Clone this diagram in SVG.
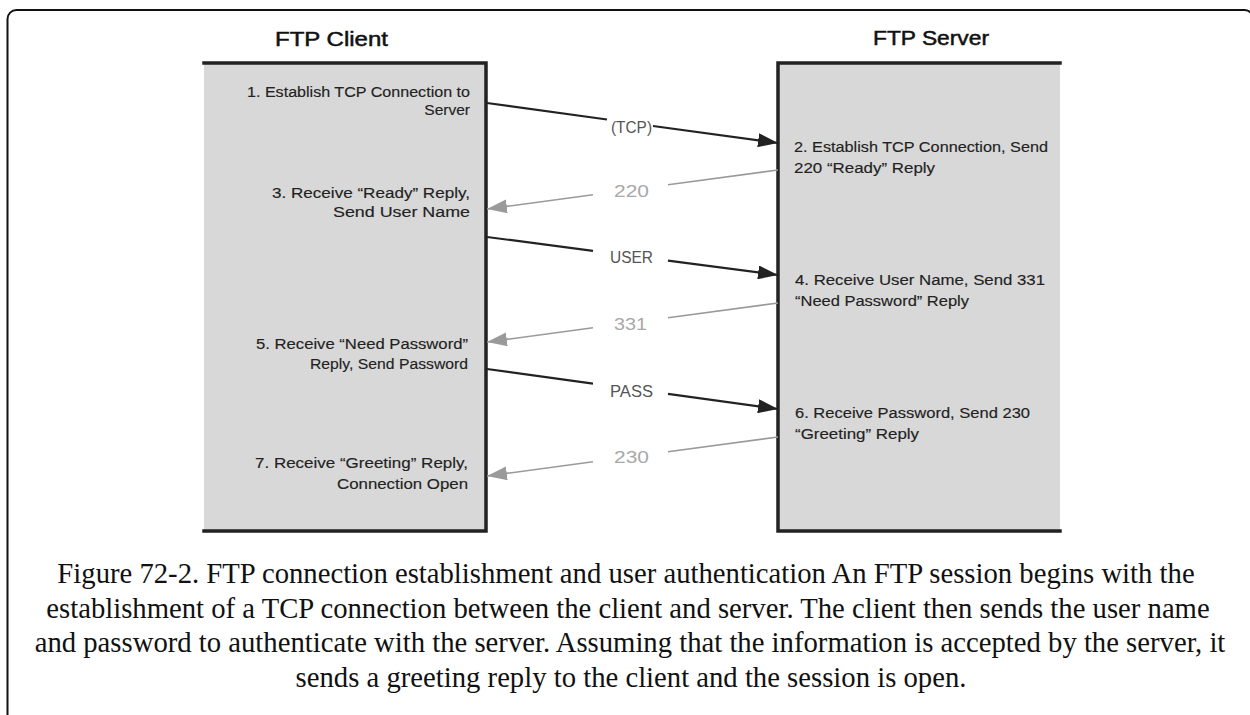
<svg xmlns="http://www.w3.org/2000/svg" width="1250" height="715" viewBox="0 0 1250 715">
<defs>
<style>
.frame{fill:none;stroke:#111;stroke-width:2}
.box{fill:#d8d8d8}
.edge{stroke:#222;stroke-width:3.5;fill:none;stroke-linecap:square}
.title{font-family:"Liberation Sans",Arial,sans-serif;font-size:20px;fill:#111;stroke:#111;stroke-width:0.5}
.t{font-family:"Liberation Sans",Arial,sans-serif;font-size:15.5px;fill:#222;stroke:#222;stroke-width:0.15}
.r{text-anchor:end}
.blk{stroke:#222;stroke-width:2.2;fill:none}
.gry{stroke:#9a9a9a;stroke-width:1.6;fill:none}
.lblk{font-family:"Liberation Sans",Arial,sans-serif;font-size:16px;fill:#555}
.lgry{font-family:"Liberation Sans",Arial,sans-serif;font-size:16px;fill:#a8a8a8}
.cap{font-family:"Liberation Serif","Times New Roman",serif;font-size:28.7px;fill:#111;text-anchor:middle}
</style>
<marker id="ab" markerUnits="userSpaceOnUse" markerWidth="20" markerHeight="14" refX="20" refY="7" orient="auto">
<path d="M0,0 L20,7 L0,14 Z" fill="#222"/>
</marker>
<marker id="ag" markerUnits="userSpaceOnUse" markerWidth="20" markerHeight="14" refX="20" refY="7" orient="auto">
<path d="M0,0 L20,7 L0,14 Z" fill="#9a9a9a"/>
</marker>
</defs>
<rect width="1250" height="715" fill="#fff"/>
<rect class="frame" x="7.5" y="10" width="1246" height="725" rx="9"/>

<g id="client">
<text class="title" x="275" y="46" textLength="113" lengthAdjust="spacingAndGlyphs">FTP Client</text>
<rect class="box" x="204" y="63" width="282" height="468"/>
<path class="edge" d="M204,63 H486 V531 H204"/>
<text class="t r" x="470" y="97" textLength="223" lengthAdjust="spacingAndGlyphs">1. Establish TCP Connection to</text>
<text class="t r" x="470" y="115">Server</text>
<text class="t r" x="470" y="198" textLength="198" lengthAdjust="spacingAndGlyphs">3. Receive “Ready” Reply,</text>
<text class="t r" x="470" y="217" textLength="137" lengthAdjust="spacingAndGlyphs">Send User Name</text>
<text class="t r" x="468" y="349" textLength="212" lengthAdjust="spacingAndGlyphs">5. Receive “Need Password”</text>
<text class="t r" x="468" y="369" textLength="158" lengthAdjust="spacingAndGlyphs">Reply, Send Password</text>
<text class="t r" x="468" y="468" textLength="213" lengthAdjust="spacingAndGlyphs">7. Receive “Greeting” Reply,</text>
<text class="t r" x="468" y="489" textLength="131" lengthAdjust="spacingAndGlyphs">Connection Open</text>
</g>

<g id="server">
<text class="title" x="873" y="45" textLength="116" lengthAdjust="spacingAndGlyphs">FTP Server</text>
<rect class="box" x="778" y="63" width="282" height="468"/>
<path class="edge" d="M1060,63 H778 V531 H1060"/>
<text class="t" x="794" y="152" textLength="254" lengthAdjust="spacingAndGlyphs">2. Establish TCP Connection, Send</text>
<text class="t" x="794" y="173" textLength="141" lengthAdjust="spacingAndGlyphs">220 “Ready” Reply</text>
<text class="t" x="795" y="285" textLength="250" lengthAdjust="spacingAndGlyphs">4. Receive User Name, Send 331</text>
<text class="t" x="795" y="306" textLength="174" lengthAdjust="spacingAndGlyphs">“Need Password” Reply</text>
<text class="t" x="795" y="418" textLength="235" lengthAdjust="spacingAndGlyphs">6. Receive Password, Send 230</text>
<text class="t" x="795" y="439" textLength="124" lengthAdjust="spacingAndGlyphs">“Greeting” Reply</text>
</g>

<g id="connectors">
<path class="blk" d="M487,103 L607,119.5"/>
<path class="blk" d="M653,126 L778,143" marker-end="url(#ab)"/>
<text class="lblk" x="611" y="133" textLength="41" lengthAdjust="spacingAndGlyphs">(TCP)</text>

<path class="gry" d="M778,170 L668,184.7"/>
<path class="gry" d="M593,194.8 L487,209" marker-end="url(#ag)"/>
<text class="lgry" x="614" y="197" textLength="35" lengthAdjust="spacingAndGlyphs">220</text>

<path class="blk" d="M487,237 L593,250.8"/>
<path class="blk" d="M668,260.6 L778,275" marker-end="url(#ab)"/>
<text class="lblk" x="610" y="263" textLength="43" lengthAdjust="spacingAndGlyphs">USER</text>

<path class="gry" d="M778,303 L668,317.7"/>
<path class="gry" d="M593,327.8 L487,342" marker-end="url(#ag)"/>
<text class="lgry" x="614" y="330" textLength="33" lengthAdjust="spacingAndGlyphs">331</text>

<path class="blk" d="M487,369 L593,383.6"/>
<path class="blk" d="M668,393.9 L778,409" marker-end="url(#ab)"/>
<text class="lblk" x="610" y="397" textLength="43" lengthAdjust="spacingAndGlyphs">PASS</text>

<path class="gry" d="M778,437 L668,451.7"/>
<path class="gry" d="M593,461.8 L487,476" marker-end="url(#ag)"/>
<text class="lgry" x="614" y="463" textLength="35" lengthAdjust="spacingAndGlyphs">230</text>
</g>

<g id="caption">
<text class="cap" x="626" y="583">Figure 72-2. FTP connection establishment and user authentication An FTP session begins with the</text>
<text class="cap" x="628" y="617.5">establishment of a TCP connection between the client and server. The client then sends the user name</text>
<text class="cap" x="630" y="652">and password to authenticate with the server. Assuming that the information is accepted by the server, it</text>
<text class="cap" x="631" y="686.5">sends a greeting reply to the client and the session is open.</text>
</g>
</svg>
